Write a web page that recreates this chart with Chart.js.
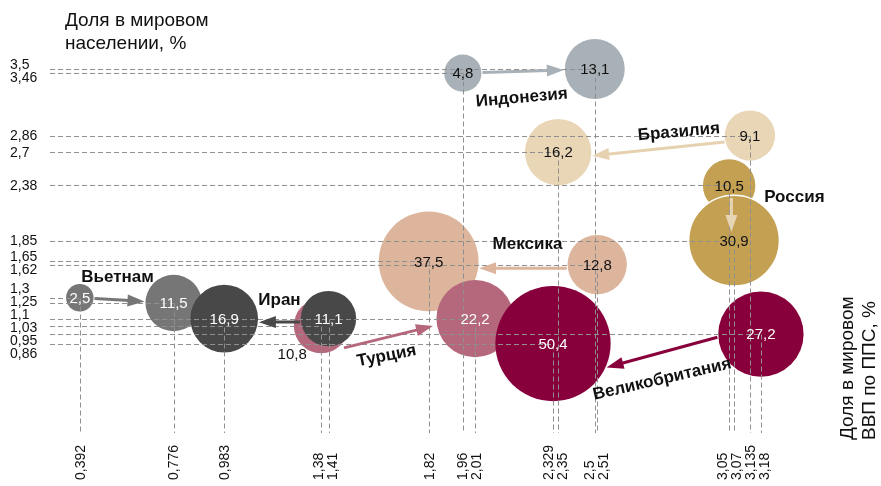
<!DOCTYPE html>
<html>
<head>
<meta charset="utf-8">
<script src="https://cdn.jsdelivr.net/npm/chart.js@4"></script>
<style>
html,body{margin:0;padding:0;background:#fff;}
#wrap{position:relative;width:881px;height:486px;}
</style>
</head>
<body>
<div id="wrap"><canvas id="c"></canvas></div>
<script>
// ---- DATA ----
const countries = ['Индонезия','Бразилия','Россия','Мексика','Вьетнам','Турция','Иран','Великобритания'];
// start points (arrow tail)
const gdpFrom = [1.96, 3.135, 3.05, 2.51, 0.392, 1.38, 1.41, 3.18];
const popFrom = [3.46, 2.86, 2.38, 1.62, 1.3, 1.03, 1.1, 0.95];
const valFrom = [4.8, 9.1, 10.5, 12.8, 2.5, 10.8, 11.1, 27.2];
// end points (arrow head)
const gdpTo = [2.5, 2.35, 3.07, 1.82, 0.776, 2.01, 0.983, 2.329];
const popTo = [3.5, 2.7, 1.85, 1.65, 1.25, 1.1, 1.1, 0.86];
const valTo = [13.1, 16.2, 30.9, 37.5, 11.5, 22.2, 16.9, 50.4];
// tick labels
const xTicks = [0.392, 0.776, 0.983, 1.38, 1.41, 1.82, 1.96, 2.01, 2.329, 2.35, 2.5, 2.51, 3.05, 3.07, 3.135, 3.18];
const yTicks = [3.5, 3.46, 2.86, 2.7, 2.38, 1.85, 1.65, 1.62, 1.3, 1.25, 1.1, 1.03, 0.95, 0.86];
const yTitle = ['Доля в мировом', 'населении, %'];
const xTitle = ['Доля в мировом', 'ВВП по ППС, %'];

// ---- STYLE ----
const fills = ['#a8b1b7', '#e9d6b7', '#c3a052', '#ddb59c', '#767676', '#b5677b', '#484848', '#88003b'];
const arrowColors = ['#a8b1b7', '#e6d2b0', '#e6d4b4', '#ddb59c', '#767676', '#b5677b', '#484848', '#88003b'];
const labelColorsFrom = ['#111', '#111', '#111', '#111', '#fff', '#111', '#fff', '#fff'];
const labelColorsTo = ['#111', '#111', '#111', '#111', '#fff', '#fff', '#fff', '#fff'];
const borderWidths = [0, 0, 1.5, 0, 0, 0, 0, 0];
// arrow geometry tweaks: a = angle (deg) on circle, d = distance from centre (px)
const arrowStyle = [
  {lab: {dx: -1.5, dy: 25.5, rot: -5}},
  {a1: 165.5, a2: 6, lab: {dx: 20.5, dy: -18, rot: -5}},
  {a1: 80, d1: 12.7, a2: -107, d2: 9, lab: {dx: 63, dy: -19, rot: 0}},
  {a1: 173, a2: 7.6, lab: {dx: 4.5, dy: -25, rot: 0}},
  {lab: {dx: -2, dy: -23.5, rot: 0}},
  {a1: 44, d1: 31.7, a2: 170, d2: 42.8, lab: {dx: -2, dy: 18, rot: -11}},
  {a1: 173, a2: 5.8, lab: {dx: 0, dy: -23, rot: 0}},
  {a1: 176, a2: 24, lab: {dx: 0, dy: 26, rot: -13}}
];
const fromLabelOffset = {5: {dx: -29, dy: 28}};
const rad = v => 1.2 + 7.95 * Math.sqrt(v);
const fmt = v => String(v).replace('.', ',');
const FONT = '"Liberation Sans", Arial, Helvetica, sans-serif';

const datasets = countries.map((c, i) => ({
  label: c,
  order: countries.length - i,
  data: [
    {x: gdpFrom[i], y: popFrom[i], r: rad(valFrom[i]), v: valFrom[i]},
    {x: gdpTo[i], y: popTo[i], r: rad(valTo[i]), v: valTo[i]}
  ],
  backgroundColor: fills[i],
  borderColor: '#ffffff',
  borderWidth: borderWidths[i],
  clip: false
}));

function spread(items, gap) {
  items.sort((a, b) => a.pos - b.pos);
  let cl = items.map(it => ({items: [it], mean: it.pos}));
  let changed = true;
  while (changed) {
    changed = false;
    for (let i = 0; i < cl.length - 1; i++) {
      const a = cl[i], b = cl[i + 1];
      const aEnd = a.mean + (a.items.length - 1) * gap / 2;
      const bStart = b.mean - (b.items.length - 1) * gap / 2;
      if (bStart - aEnd < gap) {
        const its = a.items.concat(b.items);
        const mean = its.reduce((s, it) => s + it.pos, 0) / its.length;
        cl.splice(i, 2, {items: its, mean});
        changed = true; break;
      }
    }
  }
  cl.forEach(c => c.items.forEach((it, k) => { it.placed = c.mean + (k - (c.items.length - 1) / 2) * gap; }));
  return items;
}

const overlay = {
  id: 'overlay',
  afterDatasetsDraw(chart) {
    const ctx = chart.ctx, xs = chart.scales.x, ys = chart.scales.y, ca = chart.chartArea;
    // dashed drop lines
    ctx.save();
    ctx.strokeStyle = '#8f8f8f';
    ctx.lineWidth = 1;
    ctx.setLineDash([5, 3]);
    chart.data.datasets.forEach(ds => ds.data.forEach(p => {
      const px = Math.round(xs.getPixelForValue(p.x)) + 0.5;
      const py = Math.round(ys.getPixelForValue(p.y)) + 0.5;
      ctx.beginPath();
      ctx.moveTo(ca.left, py); ctx.lineTo(px, py);
      ctx.moveTo(px, py); ctx.lineTo(px, ca.bottom);
      ctx.stroke();
    }));
    ctx.restore();

    // arrows
    const mids = [];
    chart.data.datasets.forEach((ds, i) => {
      const A = ds.data[0], B = ds.data[1];
      const ax = xs.getPixelForValue(A.x), ay = ys.getPixelForValue(A.y);
      const bx = xs.getPixelForValue(B.x), by = ys.getPixelForValue(B.y);
      const st = arrowStyle[i];
      const base = Math.atan2(by - ay, bx - ax);
      const a1 = st.a1 !== undefined ? st.a1 * Math.PI / 180 : base;
      const a2 = st.a2 !== undefined ? st.a2 * Math.PI / 180 : base + Math.PI;
      const d1 = st.d1 !== undefined ? st.d1 : A.r + 1;
      const d2 = st.d2 !== undefined ? st.d2 : B.r + 1;
      const tx = ax + d1 * Math.cos(a1), ty = ay + d1 * Math.sin(a1);
      const hx = bx + d2 * Math.cos(a2), hy = by + d2 * Math.sin(a2);
      const ang = Math.atan2(hy - ty, hx - tx);
      const L = 17, W = 12;
      const ux = Math.cos(ang), uy = Math.sin(ang);
      ctx.save();
      ctx.strokeStyle = arrowColors[i];
      ctx.fillStyle = arrowColors[i];
      ctx.lineWidth = 3;
      ctx.beginPath();
      ctx.moveTo(tx, ty);
      ctx.lineTo(hx - ux * (L - 2), hy - uy * (L - 2));
      ctx.stroke();
      ctx.beginPath();
      ctx.moveTo(hx, hy);
      ctx.lineTo(hx - ux * L - uy * W / 2, hy - uy * L + ux * W / 2);
      ctx.lineTo(hx - ux * L + uy * W / 2, hy - uy * L - ux * W / 2);
      ctx.closePath();
      ctx.fill();
      ctx.restore();
      mids.push([(tx + hx) / 2, (ty + hy) / 2]);
    });

    // values on bubbles
    ctx.save();
    ctx.font = '15px ' + FONT;
    ctx.textAlign = 'center';
    ctx.textBaseline = 'middle';
    chart.data.datasets.forEach((ds, i) => {
      ds.data.forEach((p, k) => {
        let px = xs.getPixelForValue(p.x), py = ys.getPixelForValue(p.y);
        let col = k === 0 ? labelColorsFrom[i] : labelColorsTo[i];
        if (k === 0 && fromLabelOffset[i]) { px += fromLabelOffset[i].dx; py += fromLabelOffset[i].dy; }
        ctx.fillStyle = col;
        ctx.fillText(fmt(p.v), px, py + 1);
      });
    });
    ctx.restore();

    // country labels
    ctx.save();
    ctx.font = 'bold 17px ' + FONT;
    ctx.fillStyle = '#111';
    ctx.textAlign = 'center';
    ctx.textBaseline = 'middle';
    chart.data.datasets.forEach((ds, i) => {
      const l = arrowStyle[i].lab;
      ctx.save();
      ctx.translate(mids[i][0] + l.dx, mids[i][1] + l.dy);
      ctx.rotate(l.rot * Math.PI / 180);
      ctx.fillText(ds.label, 0, 1);
      ctx.restore();
    });
    ctx.restore();

    // y tick labels
    ctx.save();
    ctx.font = '14px ' + FONT;
    ctx.fillStyle = '#111';
    ctx.textAlign = 'left';
    ctx.textBaseline = 'middle';
    const yi = spread(yTicks.map(v => ({v, pos: ys.getPixelForValue(v)})), 13);
    yi.forEach(it => ctx.fillText(fmt(it.v), 10, it.placed + 1));
    // x tick labels
    const xi = spread(xTicks.map(v => ({v, pos: xs.getPixelForValue(v)})), 14);
    xi.forEach(it => {
      ctx.save();
      ctx.translate(it.placed + 1, 480);
      ctx.rotate(-Math.PI / 2);
      ctx.fillText(fmt(it.v), 0, 0);
      ctx.restore();
    });
    // axis titles
    ctx.font = '19px ' + FONT;
    ctx.fillText(yTitle[0], 65, 21);
    ctx.fillText(yTitle[1], 65, 44);
    ctx.save();
    ctx.translate(848, 440);
    ctx.rotate(-Math.PI / 2);
    ctx.fillText(xTitle[0], 0, 0);
    ctx.fillText(xTitle[1], 0, 22);
    ctx.restore();
    ctx.restore();
  }
};

new Chart(document.getElementById('c'), {
  type: 'bubble',
  data: {datasets},
  options: {
    responsive: true,
    maintainAspectRatio: false,
    animation: false,
    events: [],
    layout: {autoPadding: false, padding: {left: 50, right: 81, top: 17, bottom: 53}},
    scales: {
      x: {type: 'linear', min: 0.27, max: 3.34, display: false},
      y: {type: 'linear', min: 0, max: 4, display: false}
    },
    plugins: {legend: {display: false}, tooltip: {enabled: false}}
  },
  plugins: [overlay]
});
</script>
</body>
</html>
